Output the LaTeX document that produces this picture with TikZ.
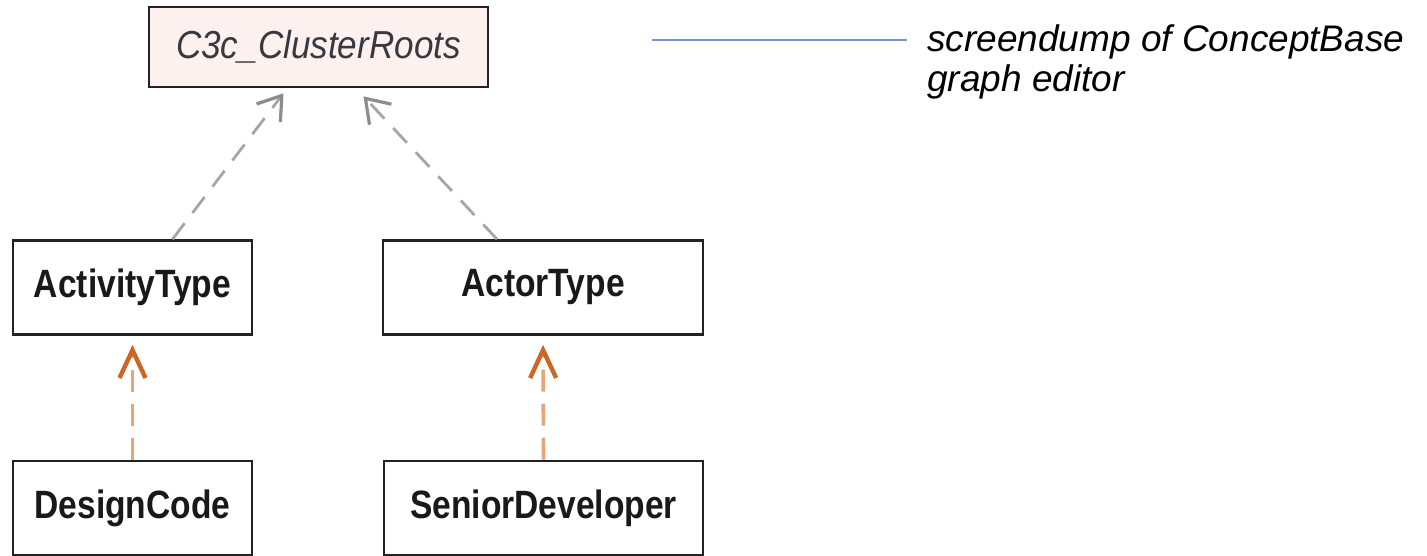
\documentclass[tikz,border=0pt]{standalone}
\usepackage{fontspec}
\setmainfont{Liberation Sans}
\newfontfamily\boxfont[FakeStretch=0.85]{Liberation Sans}
\newfontfamily\rootfont[FakeStretch=0.9]{Liberation Sans}
\usetikzlibrary{arrows.meta,calc}

\definecolor{boxline}{HTML}{222222}
\definecolor{rootfill}{HTML}{FDF1EF}
\definecolor{roottext}{HTML}{383840}
\definecolor{isagray}{HTML}{A6A6A6}
\definecolor{isagrayhead}{HTML}{8C8C8C}
\definecolor{inshaft}{HTML}{E8A57A}
\definecolor{inhead}{HTML}{CC6624}
\definecolor{callout}{HTML}{7397CB}

\tikzset{
  classbox/.style={draw=boxline, line width=2.6pt, fill=white, inner sep=0pt,
    font=\boxfont\bfseries\fontsize{39.5}{42}\selectfont, text=black!90},
  rootbox/.style={classbox, fill=rootfill,
    font=\rootfont\fontsize{39}{42}\selectfont\itshape, text=roottext},
  isalink/.style={draw=isagray, line width=2.8pt, dash pattern=on 20pt off 13pt,
    -{Straight Barb[length=22pt, width=30pt, line width=3.2pt, color=isagrayhead]}},
  inlink/.style={draw=inshaft, line width=3.6pt, dash pattern=on 22pt off 12pt,
    -{Straight Barb[length=28pt, width=26pt, line width=4.4pt, color=inhead]}},
}

\begin{document}
\begin{tikzpicture}[x=1pt, y=-1pt]
  \useasboundingbox (0,0) rectangle (1427,556);

  % class nodes
  \node[rootbox,  minimum width=339pt, minimum height=80pt] (root)  at (318.5,47)  {C3c\_ClusterRoots};
  \node[classbox, minimum width=239pt, minimum height=94pt] (activ) at (132.5,287.5) {ActivityType};
  \node[classbox, minimum width=320pt, minimum height=94pt] (actor) at (543,287.5)  {ActorType};
  \node[classbox, minimum width=239pt, minimum height=94pt] (design) at (132.5,508) {DesignCode};
  \node[classbox, minimum width=319pt, minimum height=94pt] (senior) at (543.5,508) {SeniorDeveloper};

  % specialization links to the cluster root
  \draw[isalink] ([xshift=40pt]activ.north) -- ([xshift=-35pt,yshift=-5pt]root.south);
  \draw[isalink] ([xshift=-46pt]actor.north) -- ([xshift=45pt,yshift=-8pt]root.south);

  % instance-of links
  \draw[inlink] (design.north) -- ([yshift=-9pt]activ.south);
  \draw[inlink] (senior.north) -- ([yshift=-9pt]actor.south);

  % annotation
  \node[anchor=north west, inner sep=0pt, align=left,
        font=\fontsize{37}{40}\selectfont\itshape] (note) at (927,24)
        {screendump of ConceptBase\\graph editor};
  \coordinate (calloutL) at (652,40);
  \coordinate (calloutR) at (907,40);
  \draw[callout, line width=1.4pt] (calloutL) -- (calloutR);
\end{tikzpicture}
\end{document}
